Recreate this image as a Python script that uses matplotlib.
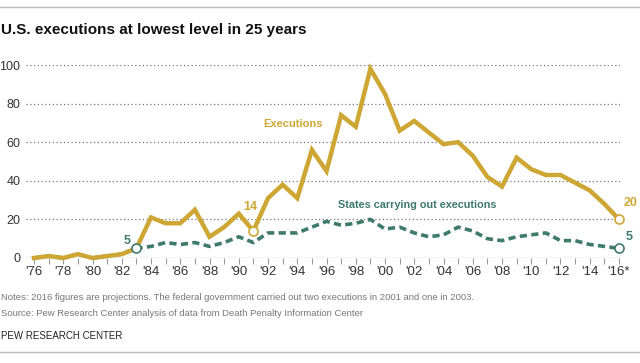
import numpy as np
import matplotlib.pyplot as plt
from matplotlib.lines import Line2D

years = list(range(1976, 2017))
executions = [0, 1, 0, 2, 0, 1, 2, 5, 21, 18, 18, 25, 11, 16, 23, 14, 31, 38, 31, 56,
              45, 74, 68, 98, 85, 66, 71, 65, 59, 60, 53, 42, 37, 52, 46, 43, 43, 39, 35, 28, 20]
states = [0, 1, 0, 2, 0, 1, 2, 5, 6, 8, 7, 8, 6, 8, 11, 8, 13, 13, 13, 16,
          19, 17, 18, 20, 15, 16, 13, 11, 12, 16, 14, 10, 9, 11, 12, 13, 9, 9, 7, 6, 5]
yticks = [0, 20, 40, 60, 80, 100]
xtick_years = list(range(1976, 2017, 2))
xtick_labels = ["'%02d" % (y % 100) for y in xtick_years]
xtick_labels[-1] = "'16*"

gold = '#CDA634'
teal = '#3E7B6B'
fam = ['Liberation Sans', 'DejaVu Sans']

fig = plt.figure(figsize=(6.4, 3.63), dpi=100)
ax = fig.add_axes([26/640, 1-258/363, (620-26)/640, (258-65)/363])

ax.plot(years, executions, color=gold, lw=3.2, solid_joinstyle='miter', zorder=3, clip_on=False)
ax.plot(years, states, color=teal, lw=2.6, dashes=(2.0, 1.2), zorder=2, clip_on=False)

# hollow markers
ax.plot([1991, 2016], [executions[1991-1976], executions[-1]], 'o', ms=6.5, mfc='white',
        mec=gold, mew=1.2, zorder=4, clip_on=False)
ax.plot([1983, 2016], [states[1983-1976], states[-1]], 'o', ms=6.5, mfc='white',
        mec=teal, mew=1.2, zorder=4, clip_on=False)

ax.set_xlim(1976 - 8/14.6, 2016 + 1/14.6)
ax.set_ylim(0, 100)

for v in yticks[1:]:
    ax.axhline(v, color='#777777', lw=0.9, ls=(0, (1, 2)), zorder=1)
ax.axhline(0, color='#999999', lw=0.9, zorder=1)

ax.set_yticks(yticks)
ax.set_yticklabels([str(v) for v in yticks], fontsize=9, color='#333333', family=fam)
ax.tick_params(axis='y', length=0, pad=4)
ax.set_xticks(years, minor=True)
ax.set_xticks(xtick_years)
ax.set_xticklabels(xtick_labels, fontsize=9.5, color='#333333', family=fam)
ax.tick_params(axis='x', which='both', length=4, color='#999999', width=0.8, pad=1.5)
for s in ax.spines.values():
    s.set_visible(False)

# labels
ax.text(1993.7, 69.5, 'Executions', color=gold, fontsize=8, fontweight='bold',
        ha='center', va='center', family=fam)
ax.text(2002.2, 27.5, 'States carrying out executions', color=teal, fontsize=7.8,
        fontweight='bold', ha='center', va='center', family=fam)
ax.annotate('5', (1983, 5), xytext=(-7, 5.5), textcoords='offset points', color=teal,
            fontsize=9, fontweight='bold', ha='center', va='center', family=fam)
ax.annotate('14', (1991, 14), xytext=(-2, 17), textcoords='offset points', color=gold,
            fontsize=9, fontweight='bold', ha='center', va='center', family=fam)
ax.annotate('20', (2016, 20), xytext=(8, 11.5), textcoords='offset points', color=gold,
            fontsize=9, fontweight='bold', ha='center', va='center', family=fam)
ax.annotate('5', (2016, 5), xytext=(7, 8.5), textcoords='offset points', color=teal,
            fontsize=9, fontweight='bold', ha='center', va='center', family=fam)

# frame lines and text
fig.add_artist(Line2D([0, 1], [1-7/363, 1-7/363], color='#BBBBBB', lw=1))
fig.add_artist(Line2D([0, 1], [1-352/363, 1-352/363], color='#BBBBBB', lw=1))
fig.text(0.002, 1-30/363, 'U.S. executions at lowest level in 25 years', fontsize=11,
         fontweight='bold', va='center', ha='left', color='#111111', family=fam)
fig.text(0.002, 1-297/363, 'Notes: 2016 figures are projections. The federal government carried out two executions in 2001 and one in 2003.',
         fontsize=6.8, color='#777777', va='center', ha='left', family=fam)
fig.text(0.002, 1-314/363, 'Source: Pew Research Center analysis of data from Death Penalty Information Center',
         fontsize=6.8, color='#777777', va='center', ha='left', family=fam)
fig.text(0.002, 1-336/363, 'PEW RESEARCH CENTER', fontsize=7, color='#222222',
         va='center', ha='left', family=fam)

fig.savefig('out.png', dpi=100)
